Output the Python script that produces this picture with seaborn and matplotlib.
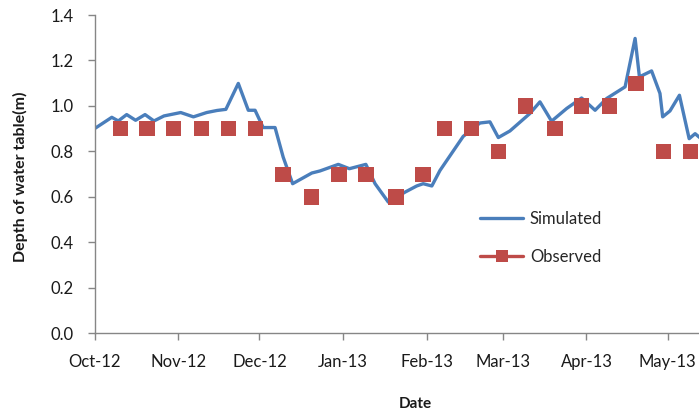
import matplotlib
matplotlib.use("Agg")
import matplotlib.pyplot as plt
import matplotlib.dates as mdates
from matplotlib.lines import Line2D
import seaborn as sns
import pandas as pd

start = pd.Timestamp("2012-10-01")

# Simulated series: days after 1 Oct 2012 and depth (m)
sim_days = [0, 6.4, 8.8, 11.9, 15.2, 18.7, 22, 25.7, 31.9, 36.6, 41.5, 45.3, 48.6,
            53.2, 56.9, 59.4, 62.4, 66.8, 69.8, 73.3, 80.4, 83.4, 90.2, 94.3, 100.4,
            103.8, 108.7, 114.9, 119.2, 121.6, 124.8, 127.8, 136.4, 142.6, 146.3,
            149.4, 153.7, 161.1, 164.8, 169.1, 174.7, 180.2, 185.2, 189.5, 196.3,
            200, 201.6, 206.1, 209.2, 210.2, 212.9, 216.4, 220, 222.2, 224]
sim_values = [0.90, 0.95, 0.934, 0.962, 0.937, 0.962, 0.934, 0.956, 0.971, 0.952,
              0.971, 0.98, 0.985, 1.099, 0.981, 0.981, 0.905, 0.905, 0.775, 0.658,
              0.705, 0.714, 0.743, 0.724, 0.743, 0.658, 0.577, 0.621, 0.648, 0.658,
              0.648, 0.716, 0.866, 0.925, 0.930, 0.861, 0.89, 0.967, 1.018, 0.933,
              0.989, 1.035, 0.981, 1.033, 1.084, 1.297, 1.128, 1.154, 1.055, 0.952,
              0.978, 1.047, 0.856, 0.878, 0.86]

# Observed series
obs_days = [9.5, 19.4, 29.3, 39.5, 49.7, 59.5, 69.7, 80.4, 90.5, 100.4, 111.5,
            121.5, 129.5, 139.4, 149.4, 159.5, 170.4, 180.3, 190.4, 200.3, 210.4, 220.4]
obs_values = [0.9, 0.9, 0.9, 0.9, 0.9, 0.9, 0.7, 0.6, 0.7, 0.7, 0.6,
              0.7, 0.9, 0.9, 0.8, 1.0, 0.9, 1.0, 1.0, 1.1, 0.8, 0.8]

y_ticks = [0.0, 0.2, 0.4, 0.6, 0.8, 1.0, 1.2, 1.4]

sim = pd.DataFrame({"date": start + pd.to_timedelta(sim_days, unit="D"), "depth": sim_values})
obs = pd.DataFrame({"date": start + pd.to_timedelta(obs_days, unit="D"), "depth": obs_values})

sns.set_style("ticks")
plt.rcParams["font.family"] = ["Lato", "DejaVu Sans"]

W, H = 699, 416
fig = plt.figure(figsize=(W / 100, H / 100), dpi=100)
ax = fig.add_axes([94.5 / W, 1 - 333.3 / H, (W - 94.5) / W, (333.3 - 15) / H])

blue = "#4A7EBB"
red = "#BE4B48"
sns.lineplot(data=sim, x="date", y="depth", ax=ax, color=blue, lw=2.4, zorder=2)
sns.scatterplot(data=obs, x="date", y="depth", ax=ax, marker="s", s=121,
                color=red, edgecolor="none", linewidth=0, zorder=3)

ax.set_xlim(start, start + pd.Timedelta(days=(W - 94.5) / 2.703))
ax.set_ylim(0, 1.4)
ax.set_yticks(y_ticks)
ax.yaxis.set_major_formatter(matplotlib.ticker.FormatStrFormatter("%.1f"))
ax.xaxis.set_major_locator(mdates.MonthLocator())
ax.xaxis.set_major_formatter(mdates.DateFormatter("%b-%y"))
ax.set_xlabel("")
ax.set_ylabel("")

for s in ["top", "right"]:
    ax.spines[s].set_visible(False)
for s in ["left", "bottom"]:
    ax.spines[s].set_color("#868686")
    ax.spines[s].set_linewidth(1)
ax.tick_params(axis="both", direction="out", length=5, width=1, color="#868686",
               labelsize=12, labelcolor="#1a1a1a")
ax.tick_params(axis="y", pad=10)
ax.tick_params(axis="x", pad=10)

fig.text(20 / W, 1 - 177 / H, "Depth of water table(m)", rotation=90, ha="center",
         va="center", fontsize=11.5, fontweight="bold", color="#1a1a1a")
fig.text(415 / W, 1 - 404 / H, "Date", ha="center", va="center", fontsize=11,
         fontweight="bold", color="#1a1a1a")

handles = [Line2D([], [], color=blue, lw=2.4),
           Line2D([], [], color=red, lw=2.4, marker="s", markersize=9, markeredgewidth=0)]
ax.legend(handles, ["Simulated", "Observed"], loc="center left",
          bbox_to_anchor=((480 - 94.5) / (W - 94.5), (333.3 - 238) / 318.3),
          frameon=False, borderpad=0, borderaxespad=0, handlelength=2.6,
          handletextpad=0.4, labelspacing=1.3, fontsize=12)

fig.savefig("out.png", dpi=100)
